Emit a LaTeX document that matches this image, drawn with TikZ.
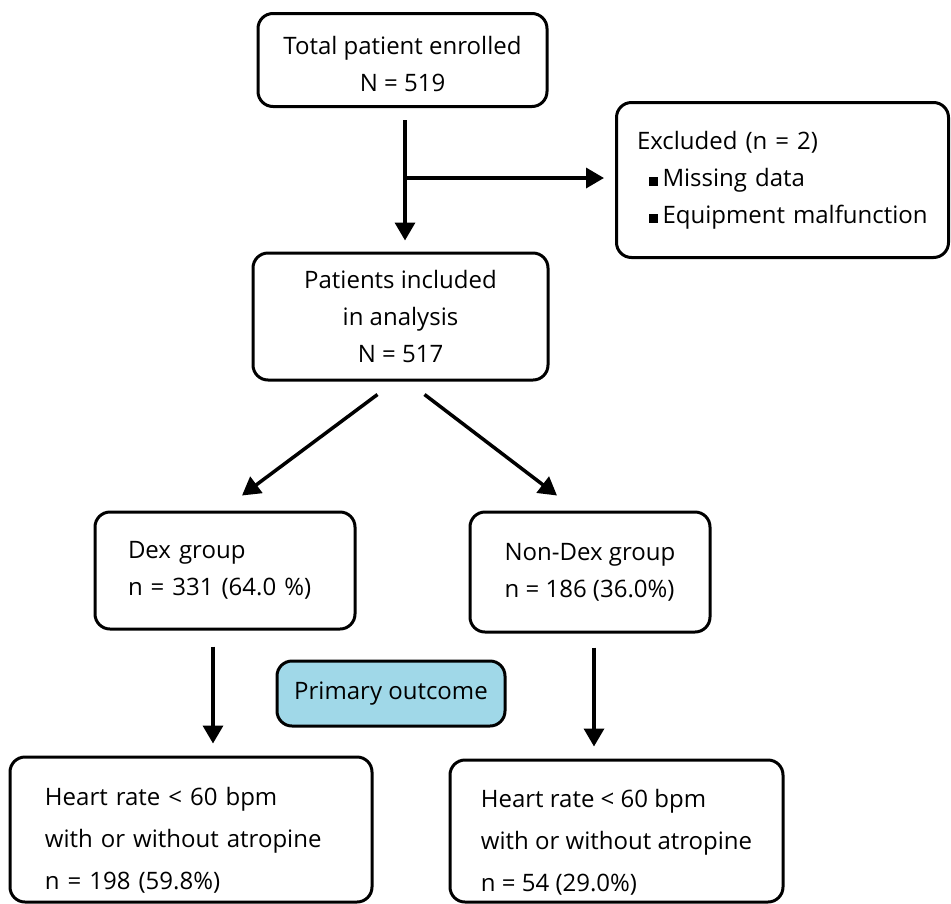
\documentclass[tikz,border=0pt]{standalone}
\usepackage{fontspec}
\setmainfont{Open Sans}
\usetikzlibrary{positioning,calc,arrows.meta}
\definecolor{outcomeblue}{RGB}{160,216,232}
\newcommand{\sqbullet}{\hspace*{12pt}\rule[0.5pt]{8.5pt}{8.5pt}\hspace{5pt}}

\begin{document}
\begin{tikzpicture}[x=1pt,y=-1pt,
        box/.style={draw,line width=3pt,rounded corners=15pt,inner sep=0pt,
            font=\fontsize{24}{37}\selectfont},
        leftbox/.style={box,align=left},
        bottombox/.style={leftbox,font=\fontsize{24}{42}\selectfont},
        arrow/.style={line width=3.5pt,-{Triangle[length=18pt,width=20pt]}}]
        \useasboundingbox (0,0) rectangle (951,903);
        \node[box,align=center,minimum width=289,minimum height=93] (total) at (402.5,60)
            {\rule{0pt}{27pt}Total patient enrolled\\N = 519};
        \node[leftbox,text width=291,minimum width=332,minimum height=155] (excl) at (782.5,180)
            {Excluded (n = 2)\\\sqbullet Missing data\\\sqbullet Equipment malfunction};
        \node[box,align=center,minimum width=295,minimum height=127] (incl) at (400.5,316.5)
            {Patients included\\in analysis\\N = 517};
        \node[leftbox,text width=194,minimum width=260,minimum height=117] (dex) at (225,570.5)
            {Dex group\\n = 331 (64.0 \%)};
        \node[leftbox,minimum width=240,minimum height=120] (nondex) at (590,572)
            {Non-Dex group\\n = 186 (36.0\%)};
        \node[box,fill=outcomeblue,minimum width=228,minimum height=65] (primary) at (391,693.5)
            {Primary outcome};
        \node[bottombox,text width=292,minimum width=362,minimum height=145] (hr1) at (191,829.5)
            {\rule{0pt}{40pt}Heart rate < 60 bpm\\with or without atropine\\n = 198 (59.8\%)};
        \node[bottombox,minimum width=333,minimum height=142] (hr2) at (616.5,831)
            {\rule{0pt}{40pt}Heart rate < 60 bpm\\with or without atropine\\n = 54 (29.0\%)};
        \coordinate (split) at (405,178);
        \draw[arrow] ([xshift=2.5pt,yshift=-12pt]total.south) -- ([xshift=4.5pt,yshift=11pt]incl.north);
        \draw[arrow,shorten >=11pt] (split) -- (split -| excl.west);
        \draw[arrow] ([xshift=-23pt,yshift=-13pt]incl.south) -- ([xshift=17pt,yshift=15pt]dex.north);
        \draw[arrow] ([xshift=24pt,yshift=-13pt]incl.south) -- ([xshift=-33pt,yshift=15pt]nondex.north);
        \draw[arrow] ([xshift=-12pt,yshift=-16pt]dex.south) -- ([xshift=22pt,yshift=12pt]hr1.north);
        \draw[arrow] ([xshift=4pt,yshift=-14pt]nondex.south) -- ([xshift=-22.5pt,yshift=12pt]hr2.north);
    \end{tikzpicture}
\end{document}
